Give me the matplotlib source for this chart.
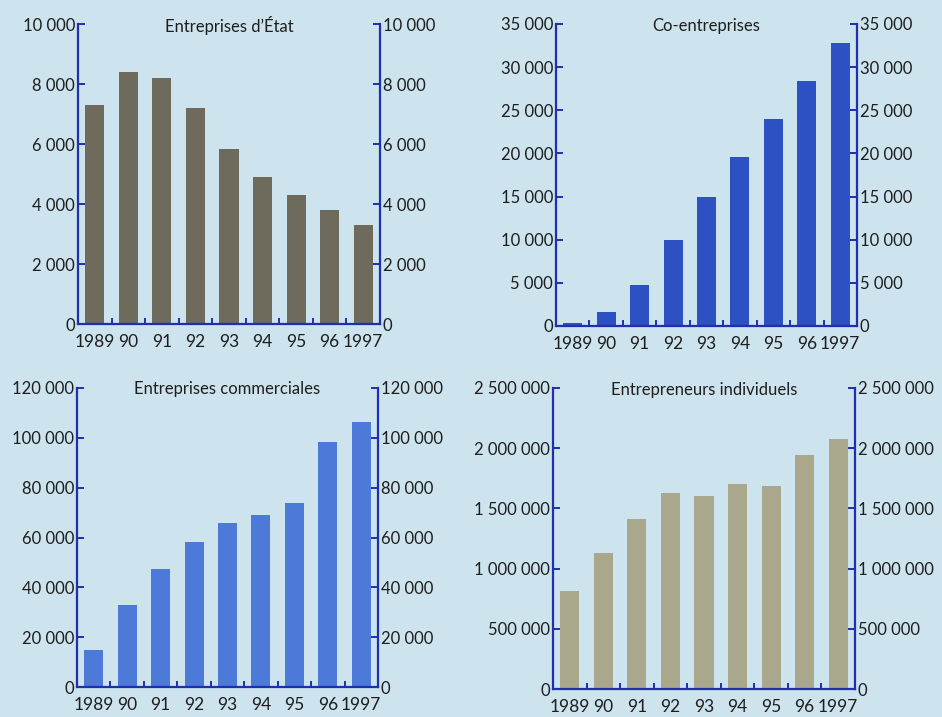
import matplotlib
matplotlib.use("Agg")
import matplotlib.pyplot as plt
from matplotlib.ticker import FuncFormatter, FixedLocator

years = ["1989", "90", "91", "92", "93", "94", "95", "96", "1997"]

etat = [7300, 8400, 8200, 7200, 5850, 4900, 4300, 3800, 3300]
coentreprises = [350, 1600, 4700, 10000, 15000, 19600, 24000, 28400, 32800]
commerciales = [15000, 33000, 47500, 58000, 66000, 69000, 74000, 98500, 106500]
individuels = [810000, 1130000, 1410000, 1625000, 1600000, 1700000, 1683000, 1940000, 2080000]

titles = ["Entreprises d\u2019\u00c9tat", "Co-entreprises",
          "Entreprises commerciales", "Entrepreneurs individuels"]
ymax = [10000, 35000, 120000, 2500000]
ystep = [2000, 5000, 20000, 500000]
colors = ["#6e6a5c", "#2d50c2", "#4d79d8", "#a9a88d"]
series = [etat, coentreprises, commerciales, individuels]

positions = [
    (78, 24, 380, 324),
    (556, 24, 857, 326),
    (77, 388, 378, 687),
    (553, 388, 855, 689),
]

W, H = 942, 717
bg = "#cde3ee"
axis_col = "#1f2fb0"
text_col = "#1e1e1e"

plt.rcParams['font.family'] = ['Lato', 'DejaVu Sans']

fig = plt.figure(figsize=(W / 100, H / 100), dpi=100, facecolor=bg)

fmt = FuncFormatter(lambda v, p: f"{int(round(v)):,}".replace(",", " "))

for i in range(4):
    x0, y0, x1, y1 = positions[i]
    ax = fig.add_axes([x0 / W, 1 - y1 / H, (x1 - x0) / W, (y1 - y0) / H])
    ax.set_facecolor(bg)
    xs = list(range(len(years)))
    ax.bar(xs, series[i], width=0.57, color=colors[i], zorder=2)
    ax.set_xlim(-0.5, len(years) - 0.5)
    ax.set_ylim(0, ymax[i])
    ticks = list(range(0, ymax[i] + 1, ystep[i]))
    ax.set_yticks(ticks)
    ax.yaxis.set_major_formatter(fmt)
    ax.set_xticks(xs)
    ax.set_xticklabels(years)
    ax.xaxis.set_minor_locator(FixedLocator([k + 0.5 for k in range(len(years) - 1)]))
    for s in ["left", "right", "bottom"]:
        ax.spines[s].set_color(axis_col)
        ax.spines[s].set_linewidth(1.6)
    ax.spines["top"].set_visible(False)
    ax.tick_params(axis="y", which="major", direction="in", length=5, width=1.4,
                   color=axis_col, labelsize=12, labelcolor=text_col, pad=2,
                   left=True, right=True, labelleft=True, labelright=True)
    ax.tick_params(axis="x", which="major", length=0, labelsize=12.5,
                   labelcolor=text_col, pad=7)
    ax.tick_params(axis="x", which="minor", direction="in", length=4, width=1.4,
                   color=axis_col)
    ax.text(0.5, 0.995, titles[i], transform=ax.transAxes, ha="center", va="center",
            fontsize=12, color=text_col)

fig.savefig("out.png", dpi=100, facecolor=bg)
